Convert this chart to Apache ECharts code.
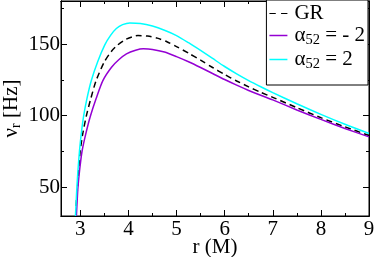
<!DOCTYPE html>
<html>
<head>
<meta charset="utf-8">
<script src="https://cdn.jsdelivr.net/npm/echarts@6/dist/echarts.min.js"></script>
<style>html,body{margin:0;padding:0;background:#fff}#c{width:374px;height:257px}</style>
</head>
<body>
<div id="c"></div>
<script>
// ---- data ----
var rGR   = [2.905, 2.92, 2.944, 2.97, 3.0, 3.055, 3.125, 3.22, 3.33, 3.5, 3.65, 3.78, 3.95, 4.2, 4.4, 4.6, 4.8, 5.0, 5.25, 5.5, 5.75, 6.0, 6.25, 6.5, 6.75, 7.0, 7.5, 8.0, 8.5, 9.0];
var vGR   = [30, 40, 50, 63, 75.7, 88, 99.6, 112, 124.5, 137.5, 145, 149.4, 153.3, 155.9, 155.5, 154.1, 151.6, 148.2, 143.6, 138.7, 133.6, 128.7, 124.2, 120.1, 116.3, 112.8, 105.6, 98.6, 92.2, 86.2];
var rNeg2 = [2.92, 2.935, 2.952, 2.99, 3.04, 3.12, 3.21, 3.33, 3.47, 3.65, 3.8, 3.96, 4.15, 4.31, 4.5, 4.75, 5.0, 5.25, 5.5, 5.75, 6.0, 6.25, 6.5, 6.75, 7.0, 7.5, 8.0, 8.5, 9.0];
var vNeg2 = [30, 40, 50, 63, 75.7, 88, 99.6, 112, 124.5, 133.8, 139, 143.1, 145.6, 146.6, 146.2, 144.4, 141.2, 137.6, 133.6, 129.4, 125.2, 121.3, 117.6, 114.2, 111.0, 104.0, 97.4, 91.1, 85.2];
var rPos2 = [2.9, 2.915, 2.93, 2.955, 2.985, 3.02, 3.07, 3.14, 3.23, 3.36, 3.51, 3.63, 3.75, 3.88, 4.03, 4.25, 4.5, 4.75, 5.0, 5.25, 5.5, 5.75, 6.0, 6.25, 6.5, 6.75, 7.0, 7.5, 8.0, 8.5, 9.0];
var vPos2 = [30, 40, 50, 63, 75.7, 87, 99.6, 112, 124.5, 137.5, 149.4, 156, 160.8, 163.5, 164.7, 164.3, 162.5, 159.6, 155.9, 150.9, 145.5, 139.9, 134.3, 129.2, 124.5, 120.2, 116.1, 108.3, 100.9, 94.0, 87.6];

var xMajorTicks = [3, 4, 5, 6, 7, 8, 9];
var xMinorTicks = [3.5, 4.5, 5.5, 6.5, 7.5, 8.5];
var yMajorTicks = [50, 100, 150];
var yMinorTicks = [75, 125, 175];

function pairs(r, v) { return r.map(function (x, i) { return [x, v[i]]; }); }

var FONT = '"Liberation Serif", "DejaVu Serif", serif';
var chart = echarts.init(document.getElementById('c'));

function xAx(pos, vals, len, labels, name) {
  return {
    type: 'value', position: pos, min: 2.6, max: 9,
    name: name || '', nameLocation: 'middle', nameGap: 21, nameMoveOverlap: false,
    nameTextStyle: { fontFamily: FONT, fontSize: 21, color: '#000' },
    axisLine: { show: true, onZero: false, lineStyle: { color: '#000', width: 1 } },
    axisTick: { show: true, inside: true, length: len, customValues: vals, lineStyle: { color: '#000' } },
    axisLabel: { show: labels, customValues: vals, fontFamily: FONT, fontSize: 21, color: '#000', margin: 3 },
    splitLine: { show: false }
  };
}
function yAx(pos, vals, len, labels, name) {
  return {
    type: 'value', position: pos, min: 30, max: 180,
    name: name || '', nameLocation: 'middle', nameGap: 38, nameRotate: 90, nameMoveOverlap: false,
    nameTextStyle: {
      fontFamily: FONT, fontSize: 21, color: '#000',
      rich: {
        a: { fontFamily: FONT, fontSize: 21, color: '#000' },
        s: { fontFamily: FONT, fontSize: 14, color: '#000', padding: [10, 0, 0, 0] }
      }
    },
    axisLine: { show: true, onZero: false, lineStyle: { color: '#000', width: 1 } },
    axisTick: { show: true, inside: true, length: len, customValues: vals, lineStyle: { color: '#000' } },
    axisLabel: { show: labels, customValues: vals, fontFamily: FONT, fontSize: 21, color: '#000', margin: 1 },
    splitLine: { show: false }
  };
}

var legendText = {
  'GR': '{a|GR}',
  'm2': '{a|\u03b1}{s|52}{a| = - 2}',
  'p2': '{a|\u03b1}{s|52}{a| = 2}'
};
var dashIcon = 'path://M0,0h6v1h-6z M11,0h6v1h-6z';

chart.setOption({
  animation: false,
  backgroundColor: '#fff',
  grid: { left: 61, right: 5, top: 1, bottom: 41, show: true, borderColor: '#000', borderWidth: 1, outerBoundsMode: 'none', containLabel: false },
  xAxis: [
    xAx('bottom', xMajorTicks, 6, true, 'r (M)'),
    xAx('bottom', xMinorTicks, 3, false),
    xAx('top', xMajorTicks, 6, false),
    xAx('top', xMinorTicks, 3, false)
  ],
  yAxis: [
    yAx('left', yMajorTicks, 6, true, '{a|\u03bd}{s|r}{a| [Hz]}'),
    yAx('left', yMinorTicks, 3, false),
    yAx('right', yMajorTicks, 6, false),
    yAx('right', yMinorTicks, 3, false)
  ],
  legend: {
    orient: 'vertical', right: 6, top: 0,
    backgroundColor: '#fff', borderColor: '#000', borderWidth: 1,
    padding: [3, 3, 13, 3], itemGap: 1, itemWidth: 18, itemHeight: 1.5,
    data: [
      { name: 'GR', icon: dashIcon },
      { name: 'm2', icon: 'rect' },
      { name: 'p2', icon: 'rect' }
    ],
    formatter: function (n) { return legendText[n]; },
    textStyle: {
      fontFamily: FONT, fontSize: 21, color: '#000', padding: [0, 0, 0, 2],
      rich: {
        a: { fontFamily: FONT, fontSize: 21, color: '#000' },
        s: { fontFamily: FONT, fontSize: 14.5, color: '#000', padding: [10, 0, 0, 0] }
      }
    }
  },
  series: [
    { name: 'GR', type: 'line', data: pairs(rGR, vGR), symbol: 'none', smooth: 0.25,
      lineStyle: { color: '#000', width: 1.5, type: [6, 4] }, itemStyle: { color: '#000' } },
    { name: 'm2', type: 'line', data: pairs(rNeg2, vNeg2), symbol: 'none', smooth: 0.25,
      lineStyle: { color: '#9400d3', width: 1.5 }, itemStyle: { color: '#9400d3' } },
    { name: 'p2', type: 'line', data: pairs(rPos2, vPos2), symbol: 'none', smooth: 0.25,
      lineStyle: { color: '#00ffff', width: 1.5 }, itemStyle: { color: '#00ffff' } }
  ]
});
</script>
</body>
</html>
